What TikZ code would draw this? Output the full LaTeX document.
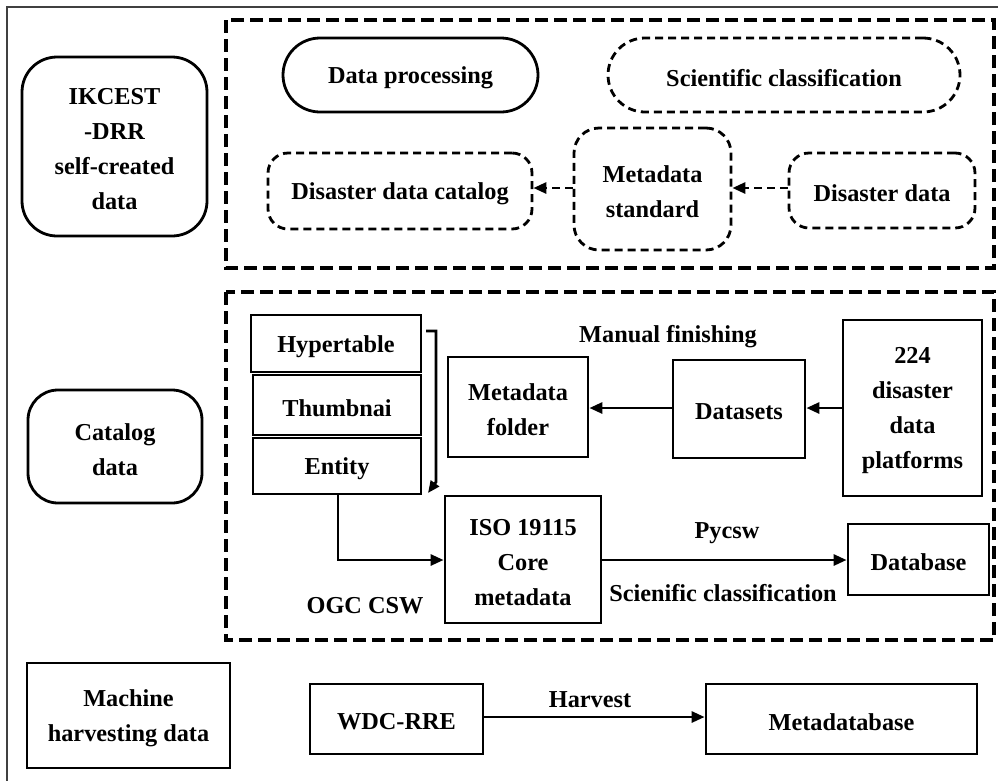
\documentclass[tikz,border=0pt]{standalone}
\usepackage{fontspec}
\setmainfont{Liberation Serif}
\usetikzlibrary{arrows.meta}
\begin{document}
\begin{tikzpicture}[x=1pt,y=-1pt,
  txt/.style={font=\fontsize{24.3}{35}\selectfont\bfseries, align=center, inner sep=0pt, yshift=-3pt},
  sbox/.style={draw, line width=2.8pt, rectangle, inner sep=0pt},
  rbox/.style={sbox, rounded corners=#1},
  dbox/.style={draw, inner sep=0pt, line width=2.8pt, dash pattern=on 8pt off 5pt, rounded corners=#1},
  bigdash/.style={draw, line width=3.6pt, dash pattern=on 13pt off 6pt},
  arr/.style={line width=2.8pt, -{Triangle[length=13pt,width=11pt]}},
  darr/.style={line width=2.8pt, dash pattern=on 8pt off 5pt, -{Triangle[length=13pt,width=11pt]}},
]
\useasboundingbox (0,0) rectangle (998,780);
\fill[white] (0,0) rectangle (998,780);
% outer frame
\draw[line width=1.5pt, black!75] (7,7) rectangle (1010,790);
% dashed group boxes
\draw[bigdash] (226,20) rectangle (994,268);
\draw[bigdash] (226,292) rectangle (994,640);

% left column
\node[rbox=35pt, minimum width=185pt, minimum height=179pt] (ik) at (114.5,146.5) {};
\node[txt] (ikt) at (ik) {IKCEST\\-DRR\\self-created\\data};
\node[rbox=30pt, minimum width=174pt, minimum height=113pt] (cat) at (115,446.5) {};
\node[txt] (catt) at (cat) {Catalog\\data};
\node[sbox, minimum width=203pt, minimum height=105pt] (mach) at (128.5,715.5) {};
\node[txt] (macht) at (mach) {Machine\\harvesting data};

% top group
\node[rbox=37pt, minimum width=255pt, minimum height=74pt] (dp) at (410.5,75) {};
\node[txt] (dpt) at (dp) {Data processing};
\node[dbox=37pt, minimum width=352pt, minimum height=74pt] (sc) at (784,75) {};
\node[txt] (sct) at (sc) {Scientific classification};
\node[dbox=20pt, minimum width=264pt, minimum height=76pt] (ddc) at (400,191) {};
\node[txt] (ddct) at (ddc) {Disaster data catalog};
\node[dbox=25pt, minimum width=157pt, minimum height=122pt] (ms) at (652.5,189) {};
\node[txt] (mst) at (ms) {Metadata\\standard};
\node[dbox=20pt, minimum width=186pt, minimum height=75pt] (dd) at (882,190.5) {};
\node[txt] (ddt) at (dd) {Disaster data};
\draw[darr] (ms.west |- 0,188) -- (ddc.east |- 0,188);
\draw[darr] (dd.west |- 0,188) -- (ms.east |- 0,188);

% catalog group
\node[sbox, minimum width=170pt, minimum height=57pt] (hyp) at (336,343.5) {};
\node[txt] (hypt) at (hyp) {Hypertable};
\node[sbox, minimum width=168pt, minimum height=60pt] (thu) at (337,405) {};
\node[txt] (thut) at (thu) {Thumbnai};
\node[sbox, minimum width=168pt, minimum height=56pt] (ent) at (337,466) {};
\node[txt] (entt) at (ent) {Entity};
\coordinate (b1) at (426,331);
\coordinate (b2) at (436,331);
\coordinate (b3) at (436,482);
\coordinate (b4) at (428,493);
\draw[line width=2.8pt, -{Triangle[length=12pt,width=10pt]}] (b1) -- (b2) -- (b3) -- (b4);

\node[sbox, minimum width=140pt, minimum height=100pt] (mf) at (518,407) {};
\node[txt] (mft) at (mf) {Metadata\\folder};
\node[sbox, minimum width=132pt, minimum height=98pt] (ds) at (739,409) {};
\node[txt] (dst) at (ds) {Datasets};
\node[sbox, minimum width=139pt, minimum height=176pt] (p224) at (912.5,408) {};
\node[txt] (p224t) at (p224) {224\\disaster\\data\\platforms};
\node[txt] (mfin) at (668,334) {Manual finishing};
\draw[arr] (ds.west |- 0,408) -- (mf.east |- 0,408);
\draw[arr] (p224.west |- 0,408) -- (ds.east |- 0,408);

\node[sbox, minimum width=156pt, minimum height=127pt] (iso) at (523,559.5) {};
\node[txt] (isot) at (iso) {ISO 19115\\Core\\metadata};
\node[sbox, minimum width=141pt, minimum height=71pt] (db) at (918.5,559.5) {};
\node[txt] (dbt) at (db) {Database};
\draw[arr] (ent.south -| 338,0) |- (iso.west |- 0,560);
\draw[arr] (iso.east |- 0,560) -- (db.west |- 0,560);
\node[txt] (ogc) at (365,603) {OGC CSW};
\node[txt] (pyc) at (727,530) {Pycsw};
\node[txt] (scl) at (723,590) {Scienific classification};

% bottom row
\node[sbox, minimum width=173pt, minimum height=70pt] (wdc) at (396.5,719) {};
\node[txt] (wdct) at (wdc) {WDC-RRE};
\node[sbox, minimum width=271pt, minimum height=70pt] (mdb) at (841.5,719) {};
\node[txt] (mdbt) at (mdb) {Metadatabase};
\draw[arr] (wdc.east |- 0,717) -- (mdb.west |- 0,717);
\node[txt] (harv) at (590,697) {Harvest};
\end{tikzpicture}
\end{document}
